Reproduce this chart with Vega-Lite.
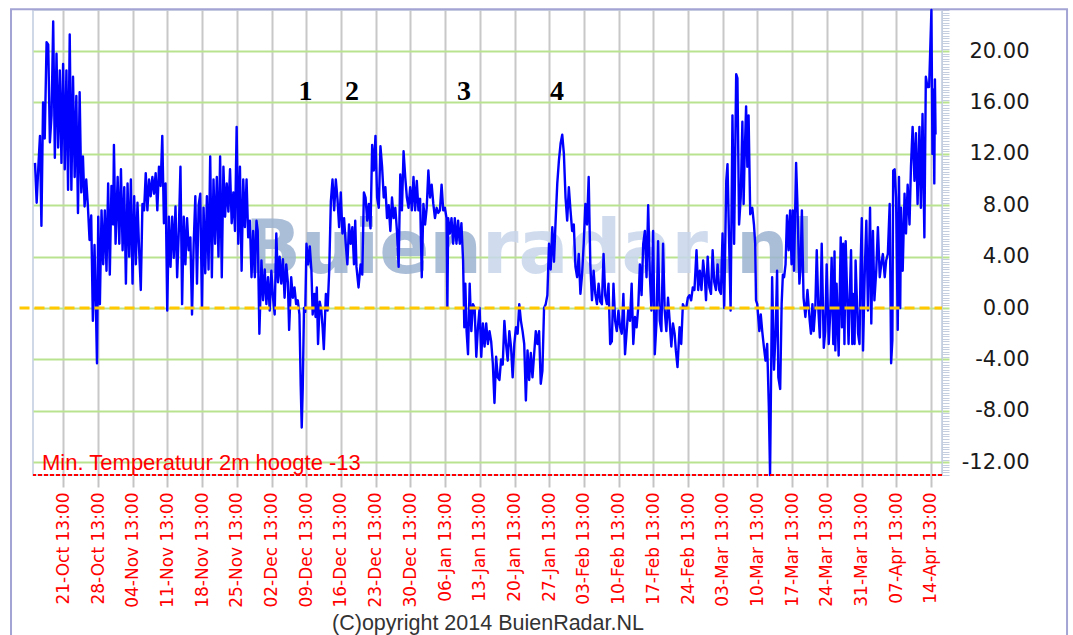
{
  "$schema": "https://vega.github.io/schema/vega-lite/v6.json",
  "autosize": "none",
  "width": 909,
  "height": 465,
  "padding": {"left": 33, "top": 10, "right": 131, "bottom": 160},
  "background": "#ffffff",
  "config": {"view": {"stroke": "#cfd8e6", "strokeWidth": 2}},
  "data": {"values": [{}]},
  "resolve": {"axis": {"x": "independent", "y": "independent"}},
  "layer": [
    {
      "mark": {"type": "rect", "filled": false, "stroke": "#a4a4d4", "strokeWidth": 2},
      "encoding": {
        "x": {"datum": {"year": 2013, "month": 10, "date": 10, "hours": 23, "minutes": 50}, "type": "temporal", "axis": null},
        "x2": {"datum": {"year": 2014, "month": 5, "date": 11, "hours": 23, "minutes": 30}},
        "y": {"datum": 23.25, "type": "quantitative", "axis": null},
        "y2": {"datum": -27}
      }
    },
    {
      "mark": {"type": "text", "text": "Buien", "font": "DejaVu Sans", "fontWeight": "bold", "fontSize": 74, "color": "#9db3d2", "opacity": 0.85, "align": "right", "baseline": "alphabetic"},
      "encoding": {
        "x": {"datum": {"year": 2014, "month": 1, "date": 13, "hours": 23, "minutes": 50}, "type": "temporal", "axis": null},
        "y": {"datum": 2.73, "type": "quantitative", "axis": null}
      }
    },
    {
      "mark": {"type": "text", "text": "radar", "font": "DejaVu Sans", "fontWeight": "bold", "fontSize": 74, "color": "#c8d7ec", "opacity": 0.85, "align": "left", "baseline": "alphabetic"},
      "encoding": {
        "x": {"datum": {"year": 2014, "month": 1, "date": 13, "hours": 23, "minutes": 50}, "type": "temporal", "axis": null},
        "y": {"datum": 2.73, "type": "quantitative", "axis": null}
      }
    },
    {
      "mark": {"type": "text", "text": ".nl", "font": "DejaVu Sans", "fontWeight": "bold", "fontSize": 74, "color": "#9db3d2", "opacity": 0.85, "align": "left", "baseline": "alphabetic"},
      "encoding": {
        "x": {"datum": {"year": 2014, "month": 2, "date": 28, "hours": 13}, "type": "temporal", "axis": null},
        "y": {"datum": 2.73, "type": "quantitative", "axis": null}
      }
    },
    {
      "data": {
        "values": [
          {"t":"2013-10-15 20:00","v":11.3},{"t":"2013-10-16 04:00","v":8.2},{"t":"2013-10-16 12:00","v":11.0},{"t":"2013-10-16 20:00","v":13.4},
          {"t":"2013-10-17 03:00","v":6.4},{"t":"2013-10-17 11:00","v":16.0},{"t":"2013-10-17 19:00","v":13.2},{"t":"2013-10-18 04:00","v":20.7},
          {"t":"2013-10-18 12:00","v":20.5},{"t":"2013-10-18 20:00","v":12.9},{"t":"2013-10-19 04:00","v":15.0},{"t":"2013-10-19 12:00","v":22.3},
          {"t":"2013-10-19 20:00","v":11.7},{"t":"2013-10-20 04:00","v":19.8},{"t":"2013-10-20 12:00","v":12.5},{"t":"2013-10-20 20:00","v":18.5},
          {"t":"2013-10-21 04:00","v":11.3},{"t":"2013-10-21 12:00","v":19.0},{"t":"2013-10-21 20:00","v":10.8},{"t":"2013-10-22 04:00","v":18.5},
          {"t":"2013-10-22 12:00","v":9.2},{"t":"2013-10-22 20:00","v":21.3},{"t":"2013-10-23 04:00","v":9.2},{"t":"2013-10-23 12:00","v":18.0},
          {"t":"2013-10-23 20:00","v":10.2},{"t":"2013-10-24 04:00","v":16.5},{"t":"2013-10-24 12:00","v":7.4},{"t":"2013-10-24 20:00","v":16.8},
          {"t":"2013-10-25 04:00","v":9.0},{"t":"2013-10-25 12:00","v":11.8},{"t":"2013-10-25 20:00","v":7.9},{"t":"2013-10-26 04:00","v":10.0},
          {"t":"2013-10-26 12:00","v":7.9},{"t":"2013-10-26 20:00","v":5.3},{"t":"2013-10-27 04:00","v":7.2},{"t":"2013-10-27 12:00","v":-1.0},
          {"t":"2013-10-27 20:00","v":4.9},{"t":"2013-10-28 04:00","v":-1.0},{"t":"2013-10-28 08:00","v":-4.3},{"t":"2013-10-28 14:00","v":7.1},
          {"t":"2013-10-28 22:00","v":0.3},{"t":"2013-10-29 06:00","v":7.6},{"t":"2013-10-29 14:00","v":3.4},{"t":"2013-10-29 22:00","v":7.6},
          {"t":"2013-10-30 06:00","v":2.9},{"t":"2013-10-30 14:00","v":9.7},{"t":"2013-10-30 22:00","v":2.6},{"t":"2013-10-31 06:00","v":9.5},
          {"t":"2013-10-31 14:00","v":6.5},{"t":"2013-10-31 18:00","v":12.7},{"t":"2013-11-01 02:00","v":5.0},{"t":"2013-11-01 12:00","v":10.2},
          {"t":"2013-11-01 20:00","v":5.0},{"t":"2013-11-02 04:00","v":10.8},{"t":"2013-11-02 12:00","v":4.5},{"t":"2013-11-02 20:00","v":9.4},
          {"t":"2013-11-03 04:00","v":1.9},{"t":"2013-11-03 12:00","v":9.7},{"t":"2013-11-03 20:00","v":4.0},{"t":"2013-11-04 04:00","v":10.0},
          {"t":"2013-11-04 12:00","v":1.9},{"t":"2013-11-04 20:00","v":8.7},{"t":"2013-11-05 04:00","v":3.4},{"t":"2013-11-05 12:00","v":8.2},
          {"t":"2013-11-05 20:00","v":4.5},{"t":"2013-11-06 04:00","v":1.4},{"t":"2013-11-06 12:00","v":8.1},{"t":"2013-11-06 20:00","v":7.6},
          {"t":"2013-11-07 04:00","v":10.5},{"t":"2013-11-07 12:00","v":7.6},{"t":"2013-11-07 20:00","v":10.0},{"t":"2013-11-08 04:00","v":8.7},
          {"t":"2013-11-08 12:00","v":10.2},{"t":"2013-11-08 20:00","v":8.9},{"t":"2013-11-09 04:00","v":10.5},{"t":"2013-11-09 12:00","v":7.6},
          {"t":"2013-11-09 20:00","v":11.0},{"t":"2013-11-10 04:00","v":9.5},{"t":"2013-11-10 12:00","v":13.4},{"t":"2013-11-10 20:00","v":6.6},
          {"t":"2013-11-11 04:00","v":9.7},{"t":"2013-11-11 12:00","v":-0.2},{"t":"2013-11-11 20:00","v":7.1},{"t":"2013-11-12 04:00","v":3.2},
          {"t":"2013-11-12 12:00","v":7.1},{"t":"2013-11-12 20:00","v":3.9},{"t":"2013-11-13 04:00","v":7.9},{"t":"2013-11-13 12:00","v":2.4},
          {"t":"2013-11-13 20:00","v":6.0},{"t":"2013-11-14 04:00","v":11.0},{"t":"2013-11-14 12:00","v":0.3},{"t":"2013-11-14 20:00","v":7.1},
          {"t":"2013-11-15 04:00","v":3.4},{"t":"2013-11-15 12:00","v":7.0},{"t":"2013-11-15 20:00","v":4.5},{"t":"2013-11-16 04:00","v":5.5},
          {"t":"2013-11-16 12:00","v":-0.5},{"t":"2013-11-16 20:00","v":5.0},{"t":"2013-11-17 04:00","v":8.7},{"t":"2013-11-17 12:00","v":1.9},
          {"t":"2013-11-17 20:00","v":8.0},{"t":"2013-11-18 04:00","v":8.9},{"t":"2013-11-18 12:00","v":0.0},{"t":"2013-11-18 20:00","v":7.8},
          {"t":"2013-11-19 04:00","v":2.7},{"t":"2013-11-19 12:00","v":8.7},{"t":"2013-11-19 20:00","v":3.0},{"t":"2013-11-20 04:00","v":11.8},
          {"t":"2013-11-20 12:00","v":2.4},{"t":"2013-11-20 20:00","v":10.0},{"t":"2013-11-21 04:00","v":5.0},{"t":"2013-11-21 12:00","v":10.2},
          {"t":"2013-11-21 20:00","v":4.0},{"t":"2013-11-22 04:00","v":11.8},{"t":"2013-11-22 12:00","v":2.4},{"t":"2013-11-22 20:00","v":11.0},
          {"t":"2013-11-23 04:00","v":7.1},{"t":"2013-11-23 12:00","v":9.7},{"t":"2013-11-23 20:00","v":7.5},{"t":"2013-11-24 04:00","v":10.8},
          {"t":"2013-11-24 12:00","v":6.6},{"t":"2013-11-24 20:00","v":9.0},{"t":"2013-11-25 04:00","v":6.0},{"t":"2013-11-25 12:00","v":14.1},
          {"t":"2013-11-25 20:00","v":5.0},{"t":"2013-11-26 04:00","v":11.0},{"t":"2013-11-26 12:00","v":2.9},{"t":"2013-11-26 20:00","v":10.0},
          {"t":"2013-11-27 04:00","v":6.3},{"t":"2013-11-27 12:00","v":10.0},{"t":"2013-11-27 20:00","v":5.5},{"t":"2013-11-28 04:00","v":6.8},
          {"t":"2013-11-28 12:00","v":2.4},{"t":"2013-11-28 20:00","v":6.0},{"t":"2013-11-29 04:00","v":2.4},{"t":"2013-11-29 12:00","v":6.8},
          {"t":"2013-11-29 18:00","v":6.0},{"t":"2013-11-30 02:00","v":-2.0},{"t":"2013-11-30 12:00","v":3.7},{"t":"2013-11-30 20:00","v":0.6},
          {"t":"2013-12-01 04:00","v":3.0},{"t":"2013-12-01 12:00","v":0.3},{"t":"2013-12-01 20:00","v":2.4},{"t":"2013-12-02 04:00","v":-0.2},
          {"t":"2013-12-02 12:00","v":2.9},{"t":"2013-12-02 20:00","v":0.8},{"t":"2013-12-03 04:00","v":-0.5},{"t":"2013-12-03 12:00","v":5.8},
          {"t":"2013-12-03 20:00","v":2.0},{"t":"2013-12-04 04:00","v":4.0},{"t":"2013-12-04 12:00","v":1.9},{"t":"2013-12-04 20:00","v":3.8},
          {"t":"2013-12-05 04:00","v":0.8},{"t":"2013-12-05 12:00","v":3.4},{"t":"2013-12-05 20:00","v":2.0},{"t":"2013-12-06 02:00","v":-1.7},
          {"t":"2013-12-06 12:00","v":2.4},{"t":"2013-12-06 20:00","v":0.8},{"t":"2013-12-07 04:00","v":1.6},{"t":"2013-12-07 12:00","v":0.3},
          {"t":"2013-12-07 20:00","v":0.6},{"t":"2013-12-08 04:00","v":-0.5},{"t":"2013-12-08 10:00","v":-6.0},{"t":"2013-12-08 15:00","v":-9.3},
          {"t":"2013-12-08 20:00","v":-6.2},{"t":"2013-12-09 02:00","v":0.0},{"t":"2013-12-09 08:00","v":-0.3},{"t":"2013-12-09 14:00","v":5.0},
          {"t":"2013-12-09 22:00","v":3.4},{"t":"2013-12-10 06:00","v":4.8},{"t":"2013-12-10 14:00","v":2.9},{"t":"2013-12-10 20:00","v":-0.5},
          {"t":"2013-12-11 04:00","v":1.1},{"t":"2013-12-11 10:00","v":-0.7},{"t":"2013-12-11 16:00","v":1.6},{"t":"2013-12-11 22:00","v":-2.8},
          {"t":"2013-12-12 06:00","v":0.5},{"t":"2013-12-12 14:00","v":-0.2},{"t":"2013-12-12 20:00","v":-1.5},{"t":"2013-12-13 02:00","v":-3.2},
          {"t":"2013-12-13 12:00","v":1.1},{"t":"2013-12-13 20:00","v":-0.2},{"t":"2013-12-14 04:00","v":2.9},{"t":"2013-12-14 12:00","v":8.3},
          {"t":"2013-12-14 20:00","v":10.0},{"t":"2013-12-15 04:00","v":7.6},{"t":"2013-12-15 12:00","v":10.0},{"t":"2013-12-15 20:00","v":8.5},
          {"t":"2013-12-16 04:00","v":6.3},{"t":"2013-12-16 12:00","v":9.0},{"t":"2013-12-16 20:00","v":5.8},{"t":"2013-12-17 04:00","v":7.0},
          {"t":"2013-12-17 12:00","v":5.0},{"t":"2013-12-17 20:00","v":3.4},{"t":"2013-12-18 04:00","v":6.5},{"t":"2013-12-18 12:00","v":5.0},
          {"t":"2013-12-18 20:00","v":6.3},{"t":"2013-12-19 04:00","v":3.4},{"t":"2013-12-19 10:00","v":6.8},{"t":"2013-12-19 16:00","v":3.2},
          {"t":"2013-12-20 02:00","v":1.6},{"t":"2013-12-20 12:00","v":3.4},{"t":"2013-12-20 20:00","v":2.6},{"t":"2013-12-21 04:00","v":9.0},
          {"t":"2013-12-21 12:00","v":8.6},{"t":"2013-12-21 20:00","v":6.8},{"t":"2013-12-22 04:00","v":8.1},{"t":"2013-12-22 12:00","v":6.2},
          {"t":"2013-12-22 20:00","v":12.7},{"t":"2013-12-23 04:00","v":10.7},{"t":"2013-12-23 12:00","v":13.4},{"t":"2013-12-23 20:00","v":8.6},
          {"t":"2013-12-24 04:00","v":7.8},{"t":"2013-12-24 12:00","v":12.6},{"t":"2013-12-24 20:00","v":11.0},{"t":"2013-12-25 04:00","v":8.6},
          {"t":"2013-12-25 12:00","v":9.4},{"t":"2013-12-25 20:00","v":7.0},{"t":"2013-12-26 04:00","v":8.0},{"t":"2013-12-26 12:00","v":6.0},
          {"t":"2013-12-26 20:00","v":8.6},{"t":"2013-12-27 04:00","v":7.0},{"t":"2013-12-27 12:00","v":7.8},{"t":"2013-12-27 20:00","v":6.0},
          {"t":"2013-12-28 04:00","v":3.2},{"t":"2013-12-28 12:00","v":10.4},{"t":"2013-12-28 20:00","v":7.6},{"t":"2013-12-29 04:00","v":12.2},
          {"t":"2013-12-29 12:00","v":10.2},{"t":"2013-12-29 20:00","v":8.6},{"t":"2013-12-30 04:00","v":7.8},{"t":"2013-12-30 12:00","v":9.4},
          {"t":"2013-12-30 20:00","v":7.6},{"t":"2013-12-31 04:00","v":10.2},{"t":"2013-12-31 12:00","v":7.6},{"t":"2013-12-31 20:00","v":9.9},
          {"t":"2014-01-01 04:00","v":7.6},{"t":"2014-01-01 12:00","v":8.5},{"t":"2014-01-01 20:00","v":2.4},{"t":"2014-01-02 04:00","v":8.1},
          {"t":"2014-01-02 12:00","v":6.5},{"t":"2014-01-02 20:00","v":7.8},{"t":"2014-01-03 04:00","v":10.7},{"t":"2014-01-03 12:00","v":8.6},
          {"t":"2014-01-03 20:00","v":9.6},{"t":"2014-01-04 04:00","v":8.1},{"t":"2014-01-04 12:00","v":7.0},{"t":"2014-01-04 20:00","v":7.8},
          {"t":"2014-01-05 04:00","v":7.4},{"t":"2014-01-05 12:00","v":7.6},{"t":"2014-01-05 20:00","v":9.6},{"t":"2014-01-06 04:00","v":7.6},
          {"t":"2014-01-06 12:00","v":7.8},{"t":"2014-01-06 20:00","v":7.0},{"t":"2014-01-07 00:00","v":0.0},{"t":"2014-01-07 04:00","v":7.0},
          {"t":"2014-01-07 12:00","v":5.8},{"t":"2014-01-07 20:00","v":7.0},{"t":"2014-01-08 04:00","v":5.0},{"t":"2014-01-08 12:00","v":7.0},
          {"t":"2014-01-08 20:00","v":5.0},{"t":"2014-01-09 04:00","v":6.8},{"t":"2014-01-09 12:00","v":5.0},{"t":"2014-01-09 20:00","v":6.6},
          {"t":"2014-01-10 04:00","v":3.7},{"t":"2014-01-10 10:00","v":-1.5},{"t":"2014-01-10 15:00","v":1.9},{"t":"2014-01-10 21:00","v":-1.8},
          {"t":"2014-01-11 04:00","v":-3.6},{"t":"2014-01-11 12:00","v":1.9},{"t":"2014-01-11 20:00","v":-1.8},{"t":"2014-01-12 04:00","v":0.3},
          {"t":"2014-01-12 12:00","v":0.0},{"t":"2014-01-12 20:00","v":-3.8},{"t":"2014-01-13 04:00","v":-1.5},{"t":"2014-01-13 12:00","v":0.0},
          {"t":"2014-01-13 20:00","v":-3.8},{"t":"2014-01-14 04:00","v":-1.2},{"t":"2014-01-14 12:00","v":-3.0},{"t":"2014-01-14 20:00","v":-1.2},
          {"t":"2014-01-15 04:00","v":-2.8},{"t":"2014-01-15 12:00","v":-1.8},{"t":"2014-01-15 20:00","v":-2.6},{"t":"2014-01-16 04:00","v":-4.3},
          {"t":"2014-01-16 12:00","v":-7.4},{"t":"2014-01-16 20:00","v":-3.8},{"t":"2014-01-17 04:00","v":-5.4},{"t":"2014-01-17 12:00","v":-5.6},
          {"t":"2014-01-17 20:00","v":-4.0},{"t":"2014-01-18 04:00","v":-4.4},{"t":"2014-01-18 12:00","v":-1.0},{"t":"2014-01-18 20:00","v":-2.8},
          {"t":"2014-01-19 04:00","v":-4.1},{"t":"2014-01-19 12:00","v":-1.8},{"t":"2014-01-19 20:00","v":-3.0},{"t":"2014-01-20 04:00","v":-5.4},
          {"t":"2014-01-20 12:00","v":-2.8},{"t":"2014-01-20 20:00","v":-1.5},{"t":"2014-01-21 04:00","v":-2.0},{"t":"2014-01-21 12:00","v":0.3},
          {"t":"2014-01-21 20:00","v":-1.0},{"t":"2014-01-22 04:00","v":-1.8},{"t":"2014-01-22 12:00","v":-2.8},{"t":"2014-01-22 20:00","v":-7.2},
          {"t":"2014-01-23 04:00","v":-3.3},{"t":"2014-01-23 12:00","v":-5.6},{"t":"2014-01-23 20:00","v":-3.5},{"t":"2014-01-24 04:00","v":-5.4},
          {"t":"2014-01-24 12:00","v":-3.6},{"t":"2014-01-24 20:00","v":-1.8},{"t":"2014-01-25 04:00","v":-2.8},{"t":"2014-01-25 12:00","v":-1.8},
          {"t":"2014-01-25 20:00","v":-5.9},{"t":"2014-01-26 04:00","v":-4.9},{"t":"2014-01-26 12:00","v":0.0},{"t":"2014-01-26 20:00","v":0.3},
          {"t":"2014-01-27 04:00","v":1.0},{"t":"2014-01-27 12:00","v":5.0},{"t":"2014-01-27 20:00","v":3.0},{"t":"2014-01-28 04:00","v":6.3},
          {"t":"2014-01-28 12:00","v":3.6},{"t":"2014-01-28 20:00","v":6.8},{"t":"2014-01-29 04:00","v":9.7},{"t":"2014-01-29 12:00","v":11.5},
          {"t":"2014-01-29 20:00","v":12.8},{"t":"2014-01-30 04:00","v":13.5},{"t":"2014-01-30 12:00","v":12.0},{"t":"2014-01-30 20:00","v":8.6},
          {"t":"2014-01-31 04:00","v":6.8},{"t":"2014-01-31 12:00","v":9.4},{"t":"2014-01-31 20:00","v":7.6},{"t":"2014-02-01 04:00","v":6.0},
          {"t":"2014-02-01 12:00","v":6.5},{"t":"2014-02-01 20:00","v":3.2},{"t":"2014-02-02 04:00","v":2.4},{"t":"2014-02-02 12:00","v":4.2},
          {"t":"2014-02-02 20:00","v":1.1},{"t":"2014-02-03 04:00","v":2.6},{"t":"2014-02-03 12:00","v":5.0},{"t":"2014-02-03 20:00","v":8.1},
          {"t":"2014-02-04 04:00","v":6.5},{"t":"2014-02-04 12:00","v":10.2},{"t":"2014-02-04 20:00","v":3.4},{"t":"2014-02-05 04:00","v":0.6},
          {"t":"2014-02-05 12:00","v":2.9},{"t":"2014-02-05 20:00","v":1.1},{"t":"2014-02-06 04:00","v":0.3},{"t":"2014-02-06 12:00","v":1.9},
          {"t":"2014-02-06 20:00","v":0.5},{"t":"2014-02-07 04:00","v":0.3},{"t":"2014-02-07 12:00","v":4.2},{"t":"2014-02-07 20:00","v":1.0},
          {"t":"2014-02-08 04:00","v":0.3},{"t":"2014-02-08 12:00","v":1.9},{"t":"2014-02-08 20:00","v":-2.8},{"t":"2014-02-09 04:00","v":-2.6},
          {"t":"2014-02-09 12:00","v":1.9},{"t":"2014-02-09 20:00","v":-1.0},{"t":"2014-02-10 04:00","v":-1.8},{"t":"2014-02-10 12:00","v":-0.2},
          {"t":"2014-02-10 20:00","v":-1.5},{"t":"2014-02-11 04:00","v":-2.0},{"t":"2014-02-11 12:00","v":1.1},{"t":"2014-02-11 20:00","v":-3.6},
          {"t":"2014-02-12 04:00","v":-1.8},{"t":"2014-02-12 12:00","v":0.0},{"t":"2014-02-12 20:00","v":-1.0},{"t":"2014-02-13 04:00","v":1.9},
          {"t":"2014-02-13 12:00","v":-2.8},{"t":"2014-02-13 20:00","v":-0.7},{"t":"2014-02-14 04:00","v":-1.5},{"t":"2014-02-14 12:00","v":0.1},
          {"t":"2014-02-14 20:00","v":3.4},{"t":"2014-02-15 04:00","v":1.0},{"t":"2014-02-15 12:00","v":5.0},{"t":"2014-02-15 20:00","v":6.0},
          {"t":"2014-02-16 04:00","v":2.4},{"t":"2014-02-16 12:00","v":8.0},{"t":"2014-02-16 20:00","v":2.6},{"t":"2014-02-17 04:00","v":-0.2},
          {"t":"2014-02-17 12:00","v":6.0},{"t":"2014-02-17 20:00","v":-3.6},{"t":"2014-02-18 04:00","v":-1.2},{"t":"2014-02-18 12:00","v":5.2},
          {"t":"2014-02-18 20:00","v":-1.0},{"t":"2014-02-19 04:00","v":-1.8},{"t":"2014-02-19 12:00","v":5.0},{"t":"2014-02-19 20:00","v":-0.2},
          {"t":"2014-02-20 04:00","v":-1.8},{"t":"2014-02-20 12:00","v":0.8},{"t":"2014-02-20 20:00","v":-1.0},{"t":"2014-02-21 04:00","v":-3.0},
          {"t":"2014-02-21 12:00","v":-1.2},{"t":"2014-02-21 20:00","v":-2.0},{"t":"2014-02-22 02:00","v":-3.3},{"t":"2014-02-22 10:00","v":-4.6},
          {"t":"2014-02-22 20:00","v":-1.5},{"t":"2014-02-23 04:00","v":-2.8},{"t":"2014-02-23 12:00","v":0.3},{"t":"2014-02-23 20:00","v":0.0},
          {"t":"2014-02-24 04:00","v":0.0},{"t":"2014-02-24 12:00","v":0.8},{"t":"2014-02-24 20:00","v":1.0},{"t":"2014-02-25 04:00","v":0.6},
          {"t":"2014-02-25 12:00","v":1.6},{"t":"2014-02-25 20:00","v":1.4},{"t":"2014-02-26 06:00","v":4.5},{"t":"2014-02-26 14:00","v":1.4},
          {"t":"2014-02-26 22:00","v":2.9},{"t":"2014-02-27 06:00","v":1.4},{"t":"2014-02-27 14:00","v":3.7},{"t":"2014-02-27 22:00","v":2.4},
          {"t":"2014-02-28 04:00","v":0.6},{"t":"2014-02-28 12:00","v":4.0},{"t":"2014-02-28 20:00","v":1.6},{"t":"2014-03-01 04:00","v":1.1},
          {"t":"2014-03-01 12:00","v":4.5},{"t":"2014-03-01 20:00","v":2.0},{"t":"2014-03-02 04:00","v":1.4},{"t":"2014-03-02 12:00","v":3.4},
          {"t":"2014-03-02 20:00","v":1.4},{"t":"2014-03-03 04:00","v":1.1},{"t":"2014-03-03 12:00","v":5.8},{"t":"2014-03-03 20:00","v":0.0},
          {"t":"2014-03-04 06:00","v":9.9},{"t":"2014-03-04 12:00","v":11.2},{"t":"2014-03-04 20:00","v":5.0},{"t":"2014-03-05 03:00","v":-0.2},
          {"t":"2014-03-05 12:00","v":15.0},{"t":"2014-03-05 20:00","v":5.0},{"t":"2014-03-06 06:00","v":18.2},{"t":"2014-03-06 12:00","v":17.9},
          {"t":"2014-03-06 20:00","v":6.5},{"t":"2014-03-07 04:00","v":8.6},{"t":"2014-03-07 12:00","v":14.5},{"t":"2014-03-07 18:00","v":8.1},
          {"t":"2014-03-07 22:00","v":11.2},{"t":"2014-03-08 06:00","v":15.7},{"t":"2014-03-08 12:00","v":11.0},{"t":"2014-03-08 18:00","v":15.0},
          {"t":"2014-03-09 02:00","v":7.3},{"t":"2014-03-09 12:00","v":7.8},{"t":"2014-03-09 20:00","v":6.5},{"t":"2014-03-10 02:00","v":5.0},
          {"t":"2014-03-10 06:00","v":0.6},{"t":"2014-03-10 12:00","v":0.3},{"t":"2014-03-10 22:00","v":-1.8},{"t":"2014-03-11 05:00","v":-0.5},
          {"t":"2014-03-11 12:00","v":-1.8},{"t":"2014-03-11 20:00","v":-3.0},{"t":"2014-03-12 04:00","v":-4.1},{"t":"2014-03-12 12:00","v":-2.8},
          {"t":"2014-03-12 20:00","v":-7.7},{"t":"2014-03-13 02:00","v":-13.0},{"t":"2014-03-13 12:00","v":2.4},{"t":"2014-03-13 21:00","v":-4.8},
          {"t":"2014-03-14 05:00","v":-1.8},{"t":"2014-03-14 12:00","v":2.9},{"t":"2014-03-14 18:00","v":-5.4},{"t":"2014-03-15 03:00","v":-6.3},
          {"t":"2014-03-15 10:00","v":0.3},{"t":"2014-03-15 16:00","v":2.6},{"t":"2014-03-15 22:00","v":2.4},{"t":"2014-03-16 05:00","v":3.4},
          {"t":"2014-03-16 12:00","v":7.2},{"t":"2014-03-16 20:00","v":4.5},{"t":"2014-03-17 03:00","v":7.6},{"t":"2014-03-17 10:00","v":3.4},
          {"t":"2014-03-17 16:00","v":7.6},{"t":"2014-03-17 22:00","v":2.9},{"t":"2014-03-18 08:00","v":11.3},{"t":"2014-03-18 14:00","v":8.3},
          {"t":"2014-03-19 00:00","v":1.9},{"t":"2014-03-19 05:00","v":3.0},{"t":"2014-03-19 12:00","v":7.6},{"t":"2014-03-19 20:00","v":0.8},
          {"t":"2014-03-20 05:00","v":-0.7},{"t":"2014-03-20 15:00","v":1.4},{"t":"2014-03-21 02:00","v":-1.0},{"t":"2014-03-21 08:00","v":-2.0},
          {"t":"2014-03-21 15:00","v":0.3},{"t":"2014-03-21 21:00","v":-1.8},{"t":"2014-03-22 05:00","v":0.0},{"t":"2014-03-22 12:00","v":4.5},
          {"t":"2014-03-22 20:00","v":-0.2},{"t":"2014-03-23 03:00","v":-2.3},{"t":"2014-03-23 12:00","v":5.0},{"t":"2014-03-23 22:00","v":-3.1},
          {"t":"2014-03-24 05:00","v":-1.8},{"t":"2014-03-24 12:00","v":3.4},{"t":"2014-03-24 22:00","v":-2.8},{"t":"2014-03-25 05:00","v":-0.5},
          {"t":"2014-03-25 12:00","v":3.9},{"t":"2014-03-25 20:00","v":-2.8},{"t":"2014-03-26 02:00","v":4.4},{"t":"2014-03-26 06:00","v":-3.3},
          {"t":"2014-03-26 12:00","v":1.9},{"t":"2014-03-26 22:00","v":-3.7},{"t":"2014-03-27 08:00","v":5.5},{"t":"2014-03-27 14:00","v":-1.5},
          {"t":"2014-03-27 20:00","v":5.0},{"t":"2014-03-28 02:00","v":-2.8},{"t":"2014-03-28 08:00","v":5.2},{"t":"2014-03-28 15:00","v":1.1},
          {"t":"2014-03-28 22:00","v":-2.8},{"t":"2014-03-29 04:00","v":1.0},{"t":"2014-03-29 10:00","v":4.5},{"t":"2014-03-29 16:00","v":-2.8},
          {"t":"2014-03-29 20:00","v":1.1},{"t":"2014-03-30 03:00","v":-2.8},{"t":"2014-03-30 08:00","v":3.7},{"t":"2014-03-30 14:00","v":0.8},
          {"t":"2014-03-30 20:00","v":-2.0},{"t":"2014-03-31 03:00","v":-2.8},{"t":"2014-03-31 08:00","v":3.2},{"t":"2014-03-31 14:00","v":7.0},
          {"t":"2014-03-31 20:00","v":-3.3},{"t":"2014-04-01 05:00","v":3.2},{"t":"2014-04-01 12:00","v":6.8},{"t":"2014-04-01 20:00","v":-0.2},
          {"t":"2014-04-02 06:00","v":7.8},{"t":"2014-04-02 12:00","v":-1.2},{"t":"2014-04-02 20:00","v":6.0},{"t":"2014-04-03 03:00","v":0.6},
          {"t":"2014-04-03 12:00","v":2.9},{"t":"2014-04-03 20:00","v":6.3},{"t":"2014-04-04 05:00","v":2.4},{"t":"2014-04-04 12:00","v":3.4},
          {"t":"2014-04-04 20:00","v":4.2},{"t":"2014-04-05 05:00","v":2.4},{"t":"2014-04-05 12:00","v":3.7},{"t":"2014-04-05 20:00","v":4.2},
          {"t":"2014-04-06 05:00","v":8.1},{"t":"2014-04-06 12:00","v":-4.3},{"t":"2014-04-06 18:00","v":-2.5},{"t":"2014-04-06 22:00","v":10.7},
          {"t":"2014-04-07 05:00","v":10.8},{"t":"2014-04-07 12:00","v":8.6},{"t":"2014-04-07 20:00","v":-1.7},{"t":"2014-04-08 02:00","v":10.2},
          {"t":"2014-04-08 08:00","v":0.0},{"t":"2014-04-08 12:00","v":7.8},{"t":"2014-04-08 20:00","v":2.9},{"t":"2014-04-09 05:00","v":8.9},
          {"t":"2014-04-09 12:00","v":5.8},{"t":"2014-04-09 20:00","v":9.6},{"t":"2014-04-10 05:00","v":6.5},{"t":"2014-04-10 12:00","v":11.0},
          {"t":"2014-04-10 20:00","v":14.1},{"t":"2014-04-11 05:00","v":9.9},{"t":"2014-04-11 12:00","v":13.6},{"t":"2014-04-11 20:00","v":8.1},
          {"t":"2014-04-12 05:00","v":14.1},{"t":"2014-04-12 12:00","v":7.8},{"t":"2014-04-12 20:00","v":15.1},{"t":"2014-04-13 05:00","v":5.5},
          {"t":"2014-04-13 12:00","v":18.0},{"t":"2014-04-13 20:00","v":17.2},{"t":"2014-04-14 04:00","v":17.2},{"t":"2014-04-14 15:00","v":23.2},
          {"t":"2014-04-14 20:00","v":12.0},{"t":"2014-04-15 01:00","v":17.0},{"t":"2014-04-15 05:00","v":9.7},{"t":"2014-04-15 08:00","v":17.8},
          {"t":"2014-04-15 11:00","v":13.5}
        ],
        "format": {"parse": {"t": "date:'%Y-%m-%d %H:%M'"}}
      },
      "mark": {"type": "line", "color": "#0000ff", "strokeWidth": 2.4, "strokeJoin": "round"},
      "encoding": {
        "x": {
          "field": "t", "type": "temporal",
          "scale": {"domain": [{"year": 2013, "month": 10, "date": 15, "hours": 10, "minutes": 15}, {"year": 2014, "month": 4, "date": 16, "hours": 18, "minutes": 15}]},
          "axis": {
            "values": [
              {"year": 2013, "month": 10, "date": 21, "hours": 13}, {"year": 2013, "month": 10, "date": 28, "hours": 13},
              {"year": 2013, "month": 11, "date": 4, "hours": 13}, {"year": 2013, "month": 11, "date": 11, "hours": 13},
              {"year": 2013, "month": 11, "date": 18, "hours": 13}, {"year": 2013, "month": 11, "date": 25, "hours": 13},
              {"year": 2013, "month": 12, "date": 2, "hours": 13}, {"year": 2013, "month": 12, "date": 9, "hours": 13},
              {"year": 2013, "month": 12, "date": 16, "hours": 13}, {"year": 2013, "month": 12, "date": 23, "hours": 13},
              {"year": 2013, "month": 12, "date": 30, "hours": 13}, {"year": 2014, "month": 1, "date": 6, "hours": 13},
              {"year": 2014, "month": 1, "date": 13, "hours": 13}, {"year": 2014, "month": 1, "date": 20, "hours": 13},
              {"year": 2014, "month": 1, "date": 27, "hours": 13}, {"year": 2014, "month": 2, "date": 3, "hours": 13},
              {"year": 2014, "month": 2, "date": 10, "hours": 13}, {"year": 2014, "month": 2, "date": 17, "hours": 13},
              {"year": 2014, "month": 2, "date": 24, "hours": 13}, {"year": 2014, "month": 3, "date": 3, "hours": 13},
              {"year": 2014, "month": 3, "date": 10, "hours": 13}, {"year": 2014, "month": 3, "date": 17, "hours": 13},
              {"year": 2014, "month": 3, "date": 24, "hours": 13}, {"year": 2014, "month": 3, "date": 31, "hours": 13},
              {"year": 2014, "month": 4, "date": 7, "hours": 13}, {"year": 2014, "month": 4, "date": 14, "hours": 13}
            ],
            "format": "%d-%b %H:%M",
            "labelAngle": -90,
            "labelColor": "#ff0000",
            "labelFont": "DejaVu Sans",
            "labelFontSize": 17,
            "labelPadding": 5,
            "labelOverlap": false,
            "labelFlush": false,
            "labelBound": false,
            "tickSize": 12,
            "tickColor": "#c4c4c4",
            "tickWidth": 2,
            "grid": true,
            "gridColor": "#c8c8c8",
            "gridWidth": 2,
            "domain": false,
            "title": "(C)opyright 2014 BuienRadar.NL",
            "titleFont": "Liberation Sans",
            "titleFontSize": 21.5,
            "titleFontWeight": "normal",
            "titleColor": "#333333",
            "titlePadding": 5
          }
        },
        "y": {
          "field": "v", "type": "quantitative",
          "scale": {"domain": [-13, 23.2], "nice": false, "zero": false},
          "axis": {
            "orient": "right",
            "tickCount": 180,
            "labelExpr": "datum.value % 4 === 0 ? replace(format(datum.value, '.2f'), '\u2212', '-') : ''",
            "labelAlign": "right",
            "labelPadding": 80,
            "labelFont": "DejaVu Sans",
            "labelFontSize": 21,
            "labelColor": "#1a1a1a",
            "labelOverlap": false,
            "labelFlush": false,
            "labelBound": false,
            "tickSize": 7,
            "tickColor": {"condition": {"test": "datum.value % 4 === 0", "value": "#b9e38f"}, "value": "#c4cede"},
            "tickWidth": {"condition": {"test": "datum.value % 4 === 0", "value": 2}, "value": 1},
            "grid": true,
            "gridColor": "#b9e38f",
            "gridWidth": 2,
            "gridOpacity": {"condition": {"test": "datum.value % 4 === 0", "value": 1}, "value": 0},
            "domain": true,
            "domainColor": "#c4cede",
            "domainWidth": 1,
            "title": null
          }
        }
      }
    },
    {
      "mark": {"type": "rule", "color": "#ffc800", "strokeWidth": 3, "strokeDash": [10, 5]},
      "encoding": {
        "x": {"datum": {"year": 2013, "month": 10, "date": 12, "hours": 17}, "type": "temporal", "axis": null},
        "x2": {"datum": {"year": 2014, "month": 4, "date": 16, "hours": 18, "minutes": 15}},
        "y": {"datum": 0, "type": "quantitative", "axis": null}
      }
    },
    {
      "mark": {"type": "rule", "color": "#ff0000", "strokeWidth": 2, "strokeDash": [4, 2]},
      "encoding": {
        "y": {"datum": -13, "type": "quantitative", "axis": null}
      }
    },
    {
      "mark": {"type": "text", "text": "Min. Temperatuur 2m hoogte -13", "font": "Liberation Sans", "fontSize": 22, "color": "#ff0000", "align": "left", "baseline": "alphabetic", "dy": -5},
      "encoding": {
        "x": {"datum": {"year": 2013, "month": 10, "date": 17, "hours": 6}, "type": "temporal", "axis": null},
        "y": {"datum": -13, "type": "quantitative", "axis": null}
      }
    },
    {
      "data": {
        "values": [
          {"n": "1", "t": "2013-12-09 09:30", "v": 16.2},
          {"n": "2", "t": "2013-12-18 18:30", "v": 16.2},
          {"n": "3", "t": "2014-01-10 08:40", "v": 16.2},
          {"n": "4", "t": "2014-01-29 03:00", "v": 16.2}
        ],
        "format": {"parse": {"t": "date:'%Y-%m-%d %H:%M'"}}
      },
      "mark": {"type": "text", "font": "Liberation Serif", "fontWeight": "bold", "fontSize": 28, "color": "#000000", "align": "center", "baseline": "alphabetic"},
      "encoding": {
        "x": {"field": "t", "type": "temporal", "axis": null},
        "y": {"field": "v", "type": "quantitative", "axis": null},
        "text": {"field": "n"}
      }
    }
  ]
}
